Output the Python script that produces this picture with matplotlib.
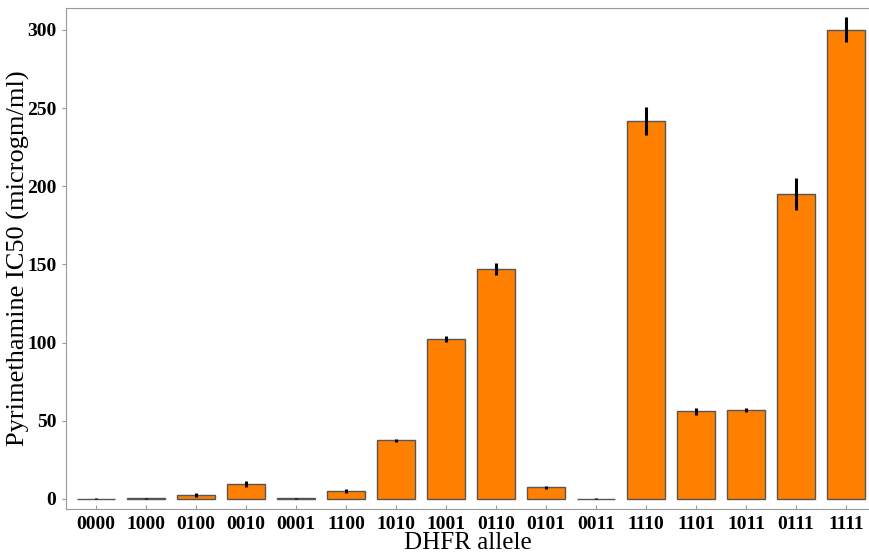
import matplotlib
matplotlib.use("Agg")
import matplotlib.pyplot as plt

alleles = ["0000", "1000", "0100", "0010", "0001", "1100", "1010", "1001",
           "0110", "0101", "0011", "1110", "1101", "1011", "0111", "1111"]
ic50 = [0.3, 0.4, 2.3, 9.5, 0.4, 5.0, 37.5, 102.5,
        147.0, 7.5, 0.2, 242.0, 56.0, 57.0, 195.0, 300.0]
err = [0.4, 0.4, 1.3, 1.8, 0.4, 1.3, 1.0, 2.0,
       4.0, 1.0, 0.3, 9.0, 2.0, 1.2, 10.0, 8.0]

plt.rcParams['font.family'] = ['Liberation Serif', 'DejaVu Serif']

fig = plt.figure(figsize=(8.7, 5.52), dpi=100)
ax = fig.add_axes([66 / 870, 43 / 552, 1 - 66 / 870, 501 / 552])

x = list(range(len(alleles)))
ax.bar(x, ic50, width=0.77, color="#ff8000", edgecolor="#555555", linewidth=1.0,
       yerr=err, error_kw=dict(ecolor="black", elinewidth=2.2, capsize=0))

ax.set_xlim(-0.6, 15.48)
ax.set_ylim(-6.4, 314)
ax.set_xticks(x)
ax.set_xticklabels(alleles, fontsize=14, fontweight="bold")
ax.set_yticks([0, 50, 100, 150, 200, 250, 300])
ax.set_yticklabels([0, 50, 100, 150, 200, 250, 300], fontsize=14, fontweight="bold")
ax.tick_params(axis="x", direction="in", length=3, color="#999999", pad=5)
ax.tick_params(axis="y", direction="out", length=3, color="#999999", pad=4)

for s in ["left", "bottom", "top"]:
    ax.spines[s].set_color("#999999")
ax.spines["right"].set_visible(False)

ax.set_xlabel("DHFR allele", fontsize=18, labelpad=-1)
ax.set_ylabel("Pyrimethamine IC50 (microgm/ml)", fontsize=19, labelpad=-2)

fig.savefig("out.png", dpi=100)
